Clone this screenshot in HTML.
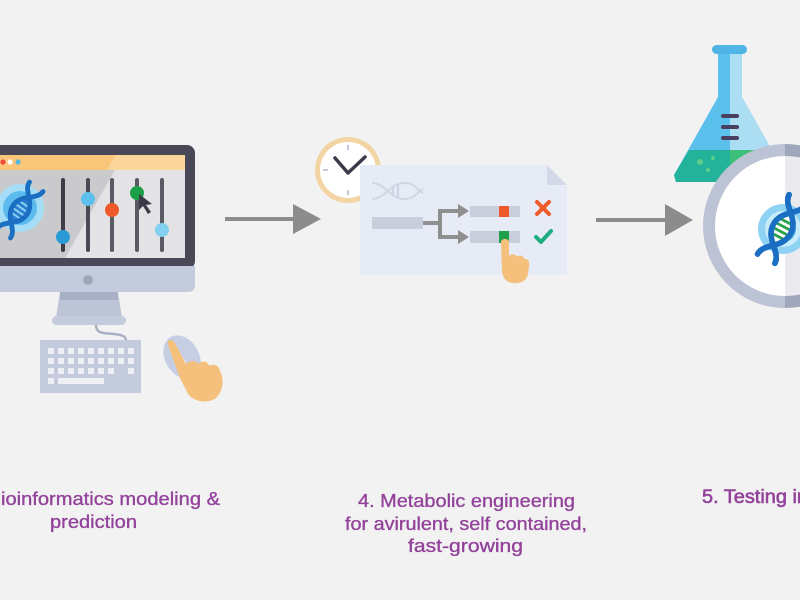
<!DOCTYPE html>
<html><head><meta charset="utf-8"><style>
html,body{margin:0;padding:0;background:#f2f2f2;}
svg{display:block;}
</style></head><body>
<svg width="800" height="600" viewBox="0 0 800 600" xmlns="http://www.w3.org/2000/svg">
<defs>
  <g id="dna">
    <path d="M -7,-24 C -7,-15 7,-12 7,0 C 7,12 -7,15 -7,24" fill="none" stroke="#1b6fc2" stroke-width="4" stroke-linecap="round"/>
    <path d="M 7,-24 C 7,-15 -7,-12 -7,0 C -7,12 7,15 7,24" fill="none" stroke="#1b6fc2" stroke-width="4" stroke-linecap="round"/>
  </g>
</defs>
<rect width="800" height="600" fill="#f2f2f2"/>

<!-- ===== Monitor ===== -->
<rect x="-12" y="145" width="207" height="124" rx="8" fill="#484856"/>
<rect x="-12" y="155" width="197" height="15" fill="#f9c579"/>
<polygon points="115,155 185,155 185,170 107,170" fill="#fbd69b"/>
<circle cx="3" cy="162" r="2.6" fill="#ee4b3b"/>
<circle cx="10" cy="162" r="2.6" fill="#ffffff"/>
<circle cx="18" cy="162" r="2.6" fill="#5bb8d6"/>
<rect x="-12" y="170" width="197" height="88" fill="#e3e3e5"/>
<polygon points="-12,170 115,170 65,258 -12,258" fill="#cacacc"/>
<!-- chin -->
<path d="M -12,266 H 195 V 285 Q 195,292 188,292 H -12 Z" fill="#c4cbdc"/>
<circle cx="88" cy="280" r="5" fill="#9ea6b8"/>
<!-- stand -->
<polygon points="60,292 118,292 122,318 56,318" fill="#bcc4d6"/>
<rect x="60" y="292" width="58" height="8" fill="#a7b0c5"/>
<rect x="52" y="316" width="74" height="9" rx="4.5" fill="#c4cbdc"/>
<path d="M96,325 C96,334 104,333 114,334 C124,335 126,337 126,341" fill="none" stroke="#a8b0c4" stroke-width="2.5"/>
<!-- keyboard -->
<rect x="40" y="340" width="101" height="53" fill="#c4cbdc"/>
<g fill="#eef0f5">
  <rect x="48" y="348" width="6" height="6"/><rect x="58" y="348" width="6" height="6"/><rect x="68" y="348" width="6" height="6"/><rect x="78" y="348" width="6" height="6"/><rect x="88" y="348" width="6" height="6"/><rect x="98" y="348" width="6" height="6"/><rect x="108" y="348" width="6" height="6"/><rect x="118" y="348" width="6" height="6"/><rect x="128" y="348" width="6" height="6"/>
  <rect x="48" y="358" width="6" height="6"/><rect x="58" y="358" width="6" height="6"/><rect x="68" y="358" width="6" height="6"/><rect x="78" y="358" width="6" height="6"/><rect x="88" y="358" width="6" height="6"/><rect x="98" y="358" width="6" height="6"/><rect x="108" y="358" width="6" height="6"/><rect x="118" y="358" width="6" height="6"/><rect x="128" y="358" width="6" height="6"/>
  <rect x="48" y="368" width="6" height="6"/><rect x="58" y="368" width="6" height="6"/><rect x="68" y="368" width="6" height="6"/><rect x="78" y="368" width="6" height="6"/><rect x="88" y="368" width="6" height="6"/><rect x="98" y="368" width="6" height="6"/><rect x="108" y="368" width="6" height="6"/><rect x="128" y="368" width="6" height="6"/>
  <rect x="48" y="378" width="6" height="6"/><rect x="58" y="378" width="46" height="6"/>
</g>
<!-- mouse + hand -->
<ellipse cx="182" cy="357" rx="17" ry="23" transform="rotate(-30 182 357)" fill="#c5cee3"/>
<path d="M171,342 L186,363" stroke="#eef1f7" stroke-width="1.5"/>
<path d="M168,345 C166,340 172,338 175,343 L186,364 C190,360 196,360 198,364 C202,360 208,361 209,366 C213,363 219,365 220,371 C224,378 224,390 216,398 C208,404 194,402 188,394 L180,378 Z" fill="#f4c07c"/>

<!-- monitor DNA -->
<circle cx="20" cy="208" r="24" fill="#a6ddf6"/>
<circle cx="20" cy="208" r="17" fill="#5cbbee"/>
<g transform="translate(20,210) rotate(35) scale(1.18)">
  <use href="#dna"/>
  <ellipse cx="0" cy="0" rx="7" ry="11" fill="#2a80cc"/>
  <g stroke="#8fd0f5" stroke-width="1.6"><line x1="-6" y1="-6" x2="6" y2="-6"/><line x1="-7" y1="-2" x2="7" y2="-2"/><line x1="-7" y1="2" x2="7" y2="2"/><line x1="-6" y1="6" x2="6" y2="6"/></g>
  <use href="#dna"/>
</g>

<!-- sliders -->
<g stroke-width="4" stroke-linecap="round">
  <line x1="63" y1="180" x2="63" y2="250" stroke="#3d3d48"/>
  <line x1="88" y1="180" x2="88" y2="250" stroke="#4a4a55"/>
  <line x1="112" y1="180" x2="112" y2="250" stroke="#5a5a64"/>
  <line x1="137" y1="180" x2="137" y2="250" stroke="#5a5a64"/>
  <line x1="162" y1="180" x2="162" y2="250" stroke="#5a5a64"/>
</g>
<circle cx="63" cy="237" r="7" fill="#2b9bd8"/>
<circle cx="88" cy="199" r="7" fill="#5bc0eb"/>
<circle cx="112" cy="210" r="7" fill="#ef5a28"/>
<circle cx="137" cy="193" r="7" fill="#1ea04a"/>
<circle cx="162" cy="230" r="7" fill="#84d0f0"/>
<path d="M139,194 L139,210 L143,206 L148,214 L151,212 L146,205 L152,204 Z" fill="#3b3b48"/>

<!-- arrow 1 -->
<line x1="225" y1="219" x2="296" y2="219" stroke="#8c8c8c" stroke-width="4"/>
<polygon points="293,204 321,219 293,234" fill="#8c8c8c"/>

<!-- ===== Middle: clock + document ===== -->
<circle cx="348" cy="170" r="33" fill="#f3d5a4"/>
<circle cx="348" cy="170" r="28" fill="#ffffff"/>
<g stroke="#c4c9d6" stroke-width="2">
  <line x1="348" y1="145" x2="348" y2="150"/><line x1="348" y1="190" x2="348" y2="195"/>
  <line x1="323" y1="170" x2="328" y2="170"/><line x1="368" y1="170" x2="373" y2="170"/>
</g>
<polyline points="335,158 348,173 365,157" fill="none" stroke="#3b3b4b" stroke-width="3.5" stroke-linecap="round" stroke-linejoin="round"/>

<polygon points="360,165 547,165 567,185 567,275 360,275" fill="#e7ebf6"/>
<polygon points="547,165 547,185 567,185" fill="#d3d9e8"/>
<!-- faint DNA -->
<g fill="none" stroke="#cfd5e3" stroke-width="2">
  <path d="M372,183 C385,183 390,199 405,199 C415,199 418,191 423,189"/>
  <path d="M372,199 C385,199 390,183 405,183 C415,183 418,191 423,193"/>
  <line x1="393" y1="186" x2="393" y2="196"/><line x1="398" y1="185" x2="398" y2="197"/>
</g>
<rect x="372" y="217" width="51" height="12" fill="#c8cedc"/>
<g stroke="#8f8f8f" stroke-width="4" fill="none">
  <line x1="423" y1="223" x2="440" y2="223"/>
  <line x1="440" y1="211" x2="440" y2="237"/>
  <line x1="438" y1="211" x2="460" y2="211"/>
  <line x1="438" y1="237" x2="460" y2="237"/>
</g>
<polygon points="458,204 469,211 458,218" fill="#8f8f8f"/>
<polygon points="458,230 469,237 458,244" fill="#8f8f8f"/>
<rect x="470" y="206" width="50" height="11" fill="#c8cedc"/>
<rect x="470" y="231" width="50" height="12" fill="#c8cedc"/>
<rect x="499" y="206" width="10" height="11" fill="#ef5a28"/>
<rect x="499" y="231" width="10" height="12" fill="#1ea04a"/>
<g stroke="#ef5a28" stroke-width="4" stroke-linecap="round">
  <line x1="537" y1="202" x2="549" y2="214"/><line x1="549" y1="202" x2="537" y2="214"/>
</g>
<polyline points="536,237 541,242 551,231" fill="none" stroke="#1fae82" stroke-width="4" stroke-linecap="round" stroke-linejoin="round"/>
<!-- hand -->
<path d="M501,242 C501,238 509,238 509,242 L509,256 C512,253 516,254 517,257 C520,254 524,256 524,259 C528,258 530,262 529,266 L528,274 C527,281 520,284 512,283 C506,282 503,278 502,272 Z" fill="#f4c07c"/>

<!-- arrow 2 -->
<line x1="596" y1="220" x2="668" y2="220" stroke="#8c8c8c" stroke-width="4"/>
<polygon points="665,204 693,220 665,236" fill="#8c8c8c"/>

<!-- ===== Flask ===== -->
<polygon points="718,97 742,97 786,175 784,182 676,182 674,175" fill="#5cc0ec"/>
<polygon points="730,97 742,97 786,175 784,182 730,182" fill="#acdef3"/>
<rect x="718" y="50" width="12" height="50" fill="#5cc0ec"/>
<rect x="730" y="50" width="12" height="50" fill="#acdef3"/>
<rect x="712" y="45" width="35" height="9" rx="4.5" fill="#4fb5e6"/>
<polygon points="689,150 771,150 786,175 784,182 676,182 674,175" fill="#22b39a"/>
<polygon points="730,150 771,150 786,175 784,182 730,182" fill="#3cbf78"/>
<circle cx="700" cy="162" r="3" fill="#5dcf8a"/>
<circle cx="713" cy="158" r="2" fill="#5dcf8a"/>
<circle cx="708" cy="170" r="2" fill="#5dcf8a"/>
<g fill="#4a3f5e">
  <rect x="721" y="114" width="18" height="4" rx="2"/>
  <rect x="721" y="125" width="18" height="4" rx="2"/>
  <rect x="721" y="136" width="18" height="4" rx="2"/>
</g>

<!-- ===== Petri / circle ===== -->
<circle cx="785" cy="226" r="76" fill="#ffffff" stroke="#bcc3d4" stroke-width="12"/>
<rect x="785" y="156" width="20" height="140" fill="#ebebef"/>
<path d="M785,144 A82,82 0 0 1 800,145.4 L800,157.5 A70,70 0 0 0 785,156 Z" fill="#9ea7bb"/>
<path d="M785,308 A82,82 0 0 0 800,306.6 L800,294.5 A70,70 0 0 1 785,296 Z" fill="#9ea7bb"/>
<circle cx="783" cy="229" r="25" fill="#8fd3f4"/>
<circle cx="783" cy="229" r="18" fill="#c9ecfb"/>
<circle cx="783" cy="229" r="13" fill="#4fb8ec"/>
<g transform="translate(782,229) rotate(28) scale(1.4)">
  <use href="#dna"/>
  <ellipse cx="0" cy="0" rx="7" ry="11" fill="#ffffff"/>
  <g stroke="#2aa24a" stroke-width="2"><line x1="-6" y1="-6" x2="6" y2="-6"/><line x1="-7" y1="-2" x2="7" y2="-2"/><line x1="-7" y1="2" x2="7" y2="2"/><line x1="-6" y1="6" x2="6" y2="6"/></g>
  <use href="#dna"/>
</g>

<!-- ===== Labels ===== -->
<g font-family="Liberation Sans, sans-serif" font-size="18" fill="#93439b" stroke="#93439b" stroke-width="0.35">
  <text x="0" y="505" text-anchor="end">3. B</text>
  <text x="1" y="505" textLength="219" lengthAdjust="spacingAndGlyphs">ioinformatics modeling &amp;</text>
  <text x="50" y="528" textLength="87" lengthAdjust="spacingAndGlyphs">prediction</text>

  <text x="358" y="507" textLength="217" lengthAdjust="spacingAndGlyphs">4. Metabolic engineering</text>
  <text x="345" y="530" textLength="242" lengthAdjust="spacingAndGlyphs">for avirulent, self contained,</text>
  <text x="408" y="552" textLength="115" lengthAdjust="spacingAndGlyphs">fast-growing</text>

  <text x="702" y="503" font-size="19" stroke-width="0.6" textLength="106" lengthAdjust="spacingAndGlyphs">5. Testing in</text>
</g>
</svg>
</body></html>
